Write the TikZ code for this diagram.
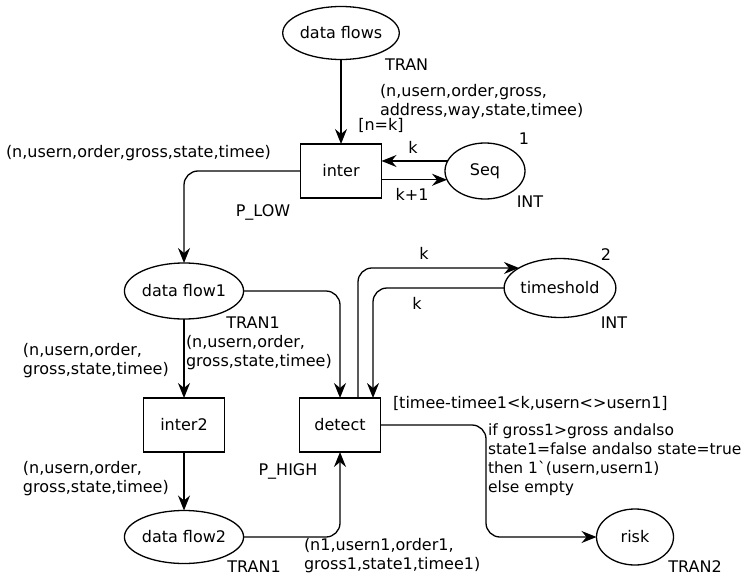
\documentclass[tikz,border=0pt]{standalone}
\usepackage{fontspec}
\setmainfont{DejaVu Sans}
\font\gravefont="DejaVu Sans" at 15.5pt
\usetikzlibrary{shapes.geometric,arrows.meta}
\begin{document}
\begin{tikzpicture}[x=1pt,y=-1pt,
  font=\fontsize{16}{19}\selectfont,
  every node/.style={inner sep=0pt,outer sep=0pt},
  place/.style={draw,ellipse,line width=1.3pt,minimum width=#1,minimum height=56pt},
  trans/.style={draw,rectangle,line width=1.3pt,minimum width=81pt,minimum height=54pt},
  arc/.style={line width=1.3pt,-{Stealth[length=15pt,width=12pt,inset=5pt]},rounded corners=14pt},
  lbl/.style={align=left,anchor=west},
]
\useasboundingbox (0,0) rectangle (749,578);

% places and transitions
\node[place=113pt,minimum height=53pt] (df0) at (341,33) {data flows};
\node[trans] (inter) at (341,171) {inter};
\node[place=80pt] (seq) at (485,171) {Seq};
\node[place=110pt] (df1) at (184,291) {data flow1};
\node[place=110pt,minimum height=59pt] (ts) at (560,288) {timeshold};
\node[trans] (inter2) at (184,425) {inter2};
\node[trans] (detect) at (340,425) {detect};
\node[place=117pt,minimum height=53pt] (df2) at (184,537) {data flow2};
\node[place=77pt] (risk) at (635,537) {risk};

% arcs
\draw[arc] (df0) -- (inter);
\draw[arc] (seq.165) -- (seq.165 -| inter.east);
\draw[arc] (seq.193 -| inter.east) -- (seq.193);
\draw[arc] (inter.west) -| (df1.north);
\draw[arc] (df1) -- (inter2);
\draw[arc] (inter2) -- (df2);
\draw[arc] (df1.east) -| (detect.north);
\draw[arc] ([xshift=18pt]detect.north) |- (ts.154);
\draw[arc] (ts.west) -| ([xshift=33pt]detect.north);
\draw[arc] (df2.east) -| (detect.south);
\coordinate (bend) at (486,480);
\draw[arc] (detect.east) -| (bend) |- (risk.west);

% labels
\node[lbl] (tTran) at (385,65) {TRAN};
\node[lbl] (e1) at (380,101.5) {(n,usern,order,gross,\\address,way,state,timee)};
\node (g1) at (381,125) {[n=k]};
\node (k1) at (413,147) {k};
\node (one) at (524,139) {1};
\node (k2) at (412,194) {k+1};
\node (int1) at (530,202) {INT};
\node[lbl] (e2) at (6,153) {(n,usern,order,gross,state,timee)};
\node (plow) at (263,212) {P\_LOW};
\node (tran1a) at (253,323) {TRAN1};
\node[lbl] (e3) at (186,353) {(n,usern,order,\\gross,state,timee)};
\node[lbl] (e4) at (23,361) {(n,usern,order,\\gross,state,timee)};
\node (k3) at (424,253) {k};
\node (k4) at (417,303) {k};
\node (two) at (606,255) {2};
\node (int2) at (614,323) {INT};
\node[lbl] (g2) at (393,403) {[timee-timee1<k,usern<>usern1]};
\node[lbl,font=\fontsize{15.5}{19}\selectfont] (e5) at (488,460) {if gross1>gross andalso\\state1=false andalso state=true\\then 1{\gravefont`}(usern,usern1)\\else empty};
\node (phigh) at (288,471) {P\_HIGH};
\node[lbl] (e6) at (23,478.5) {(n,usern,order,\\gross,state,timee)};
\node[lbl] (e7) at (304,556) {(n1,usern1,order1,\\gross1,state1,timee1)};
\node (tran1b) at (254,567) {TRAN1};
\node (tran2) at (695,567) {TRAN2};
\end{tikzpicture}
\end{document}
